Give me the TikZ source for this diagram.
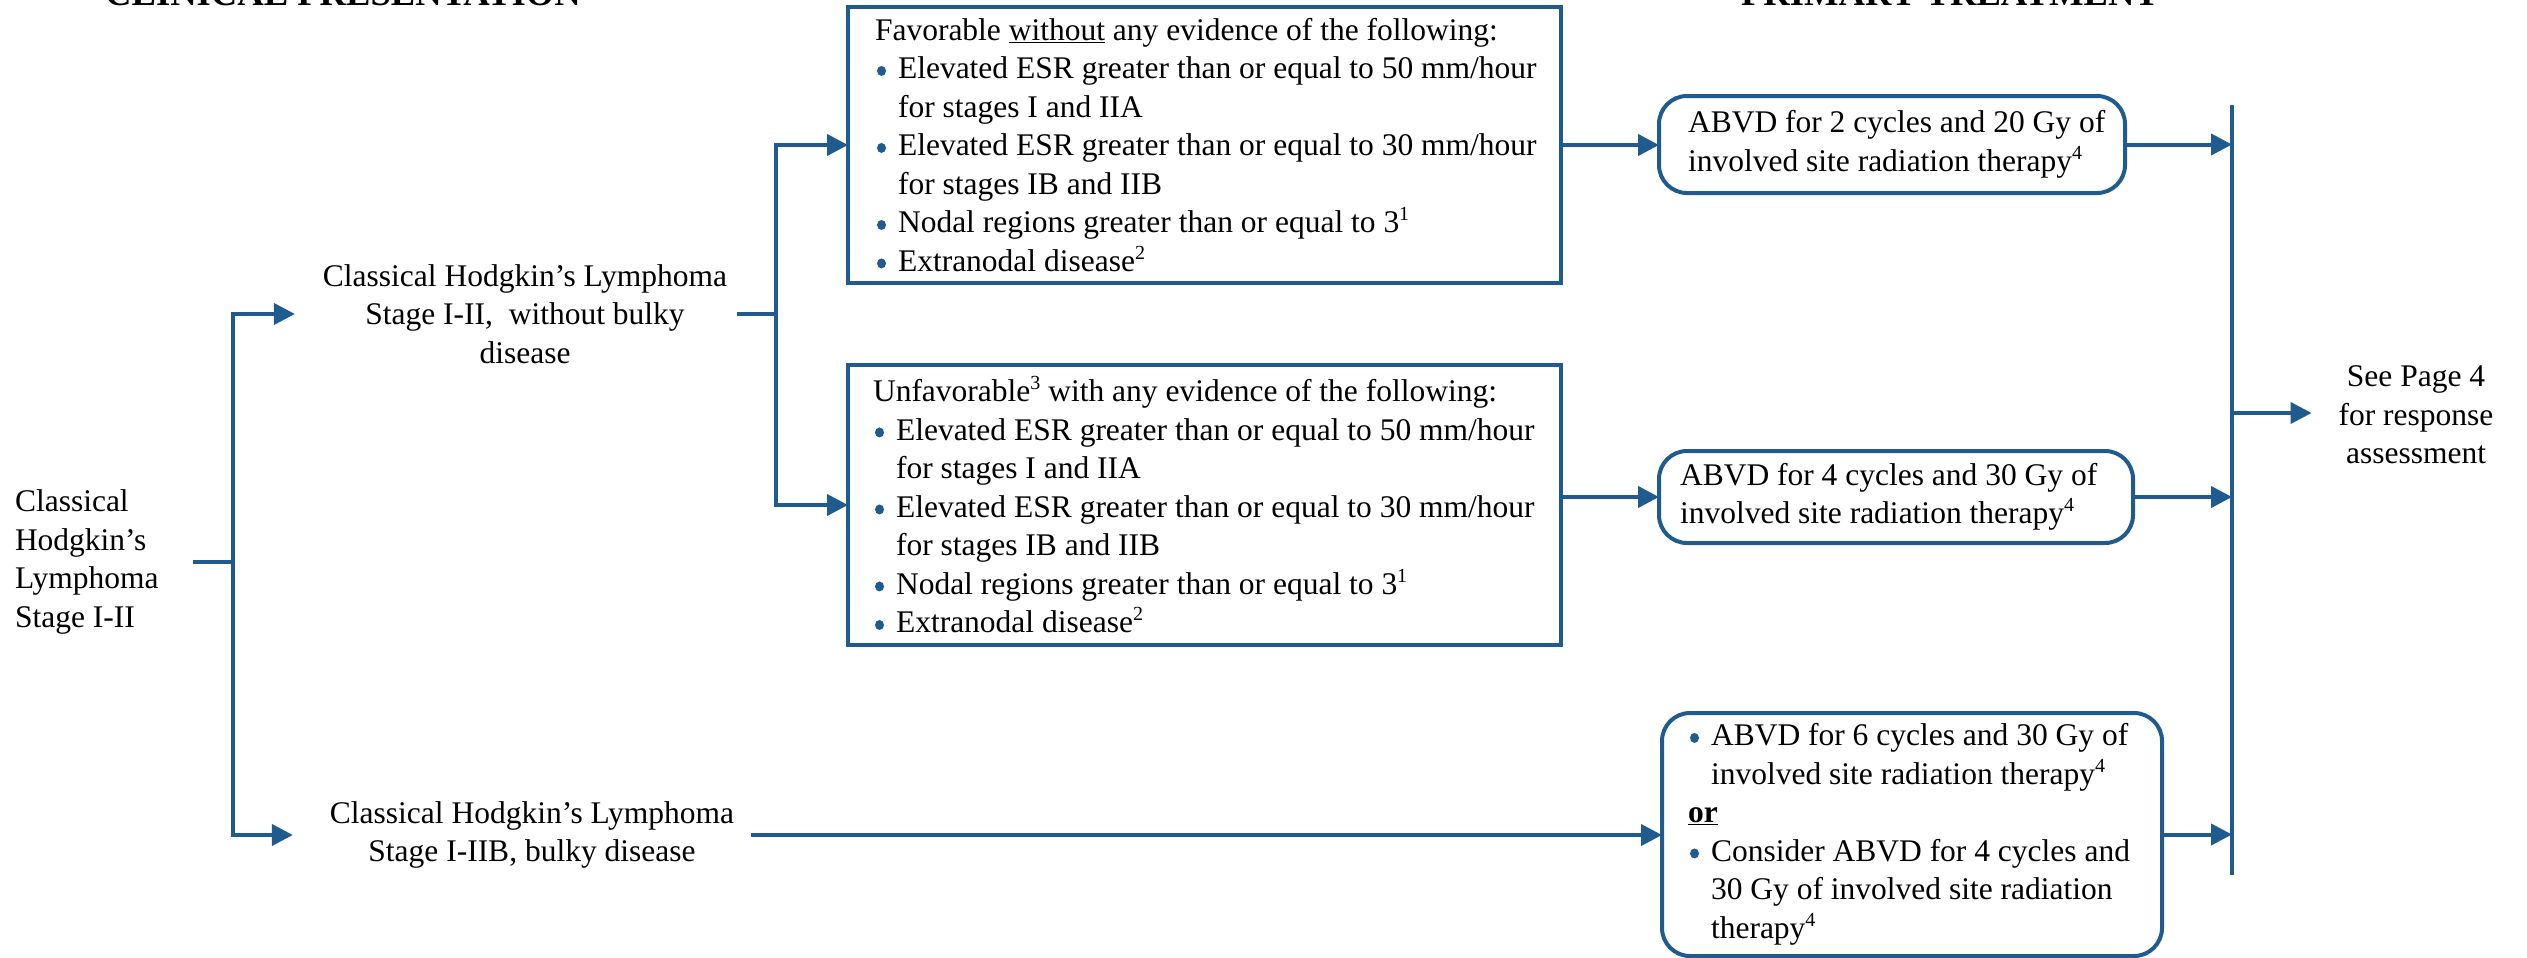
\documentclass[tikz,border=0pt]{standalone}
\usepackage{fontspec}
\setmainfont{Liberation Serif}
\usetikzlibrary{arrows.meta,calc}
\definecolor{nccnblue}{RGB}{31,91,142}
% bullet mark and matching indent for list lines
\newcommand{\bdot}{\makebox[23pt][l]{\hspace{2pt}\tikz[baseline={(0,-8pt)}]\fill[nccnblue] (4.5pt,0) circle[x radius=4.5pt, y radius=5pt];}}
\newcommand{\bgap}{\hspace*{23pt}}
% footnote marks
\newcommand{\fn}[1]{\raisebox{12pt}{\fontsize{20}{20}\selectfont #1}}
\begin{document}
\begin{tikzpicture}[x=1pt,y=1pt,
  every node/.style={font=\fontsize{31.5}{38.5}\selectfont, inner sep=0pt, outer sep=0pt},
  hdr/.style={font=\fontsize{36.6}{44}\selectfont\bfseries, anchor=base},
  plain/.style={align=center},
  lefttxt/.style={align=left, anchor=west},
  sqbox/.style={draw=nccnblue, line width=4pt, anchor=north west},
  rndbox/.style={draw=nccnblue, line width=4pt, rounded corners=28pt, anchor=north west},
  link/.style={draw=nccnblue, line width=4pt},
  arr/.style={link, -{Triangle[length=21pt,width=21pt]}},
]
\useasboundingbox (0,0) rectangle (2527,-958);

% column headings
\node[hdr] (hclin) at (343,-6) {CLINICAL PRESENTATION};
\node[hdr] (hprim) at (1950,-6) {PRIMARY TREATMENT};

% clinical presentation
\node[lefttxt] (root) at (15,-562) {Classical\\Hodgkin’s\\Lymphoma\\Stage I-II};
\node[plain] (nobulky) at (525,-314) {Classical Hodgkin’s Lymphoma\\Stage I-II, \ without bulky\\disease};
\node[plain] (bulky) at (532,-835) {Classical Hodgkin’s Lymphoma\\Stage I-IIB, bulky disease};

% risk group boxes
\node[sqbox, minimum width=713, minimum height=276] (fav) at (848,-7) {};
\node[lefttxt] (favtxt) at ([xshift=27]fav.west) {Favorable \underline{without} any evidence of the following:\\
\bdot Elevated ESR greater than or equal to 50 mm/hour\\
\bgap for stages I and IIA\\
\bdot Elevated ESR greater than or equal to 30 mm/hour\\
\bgap for stages IB and IIB\\
\bdot Nodal regions greater than or equal to 3\fn{1}\\
\bdot Extranodal disease\fn{2}};

\node[sqbox, minimum width=713, minimum height=280] (unfav) at (848,-365) {};
\node[lefttxt] (unfavtxt) at ([xshift=25]unfav.west) {Unfavorable\fn{3} with any evidence of the following:\\
\bdot Elevated ESR greater than or equal to 50 mm/hour\\
\bgap for stages I and IIA\\
\bdot Elevated ESR greater than or equal to 30 mm/hour\\
\bgap for stages IB and IIB\\
\bdot Nodal regions greater than or equal to 3\fn{1}\\
\bdot Extranodal disease\fn{2}};

% primary treatment boxes
\node[rndbox, minimum width=466, minimum height=97] (t1) at (1659,-96) {};
\node[lefttxt] (t1txt) at ([xshift=29]t1.west) {ABVD for 2 cycles and 20 Gy of\\involved site radiation therapy\fn{4}};

\node[rndbox, minimum width=474, minimum height=92] (t2) at (1659,-451) {};
\node[lefttxt] (t2txt) at ([xshift=21]t2.west) {ABVD for 4 cycles and 30 Gy of\\involved site radiation therapy\fn{4}};

\node[rndbox, minimum width=500, minimum height=243] (t3) at (1662,-713) {};
\node[lefttxt] (t3txt) at ([xshift=26]t3.west) {\bdot ABVD for 6 cycles and 30 Gy of\\
\bgap involved site radiation therapy\fn{4}\\
\textbf{\underline{or}}\\
\bdot Consider ABVD for 4 cycles and\\
\bgap 30 Gy of involved site radiation\\
\bgap therapy\fn{4}};

\node[plain] (seep) at (2416,-415) {See Page 4\\for response\\assessment};

% branch points
\coordinate (s1mid) at (233,-562);
\coordinate (s2mid) at (776,-314);
\coordinate (s3top) at (2232,-105);
\coordinate (s3bot) at (2232,-875);
\coordinate (s3mid) at (2232,-413);

% connectors
\draw[link] ([xshift=35]root.east) -- (s1mid);
\draw[arr] (s1mid) |- ([xshift=-28]nobulky.west);
\draw[arr] (s1mid) |- ([xshift=-37]bulky.west);
\draw[link] ([xshift=10]nobulky.east) -- (s2mid);
\draw[arr] (s2mid) |- (fav.west);
\draw[arr] (s2mid) |- (unfav.west);
\draw[arr] (fav.east) -- (fav.east -| t1.west);
\draw[arr] (t2.west -| unfav.east) -- (t2.west);
\draw[arr] ([xshift=17]bulky.east) -- (bulky.east -| t3.west);
\draw[link] (s3top) -- (s3bot);
\draw[arr] (t1.east) -- (t1.east -| s3top);
\draw[arr] (t2.east) -- (t2.east -| s3top);
\draw[arr] (t3.east) -- (t3.east -| s3top);
\draw[arr] (s3mid) -- ([xshift=-27]seep.west |- s3mid);
\end{tikzpicture}
\end{document}
